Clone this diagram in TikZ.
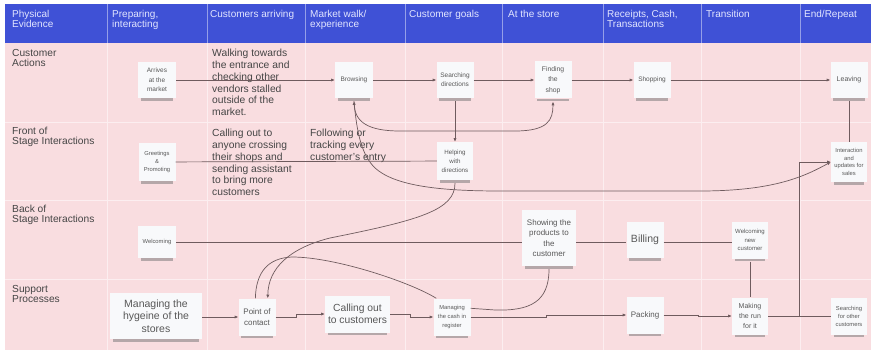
\documentclass[tikz,border=0pt]{standalone}
\usepackage{fontspec}
\setmainfont{Liberation Sans}
\usetikzlibrary{arrows.meta}

\definecolor{hdrblue}{HTML}{3F51D6}
\definecolor{hdrtext}{HTML}{E2E5FF}
\definecolor{lanepink}{HTML}{F9DDE0}
\definecolor{gridline}{HTML}{FCEEF0}
\definecolor{inkgray}{HTML}{454545}
\definecolor{notetext}{HTML}{585858}
\definecolor{wire}{HTML}{6F5B5E}
\definecolor{notefill}{HTML}{F8F9FB}

\tikzset{
  hdr/.style={anchor=north west, inner sep=0pt, align=left, text=hdrtext,
    font=\fontsize{10}{10.2}\selectfont},
  lanelabel/.style={anchor=north west, inner sep=0pt, align=left, text=inkgray,
    font=\fontsize{10.2}{10.4}\selectfont},
  memo/.style={anchor=north west, inner sep=0pt, align=left, text=inkgray,
    font=\fontsize{10.3}{11.8}\selectfont},
  sticky/.style={fill=notefill, inner sep=0pt, align=center, text=notetext,
    minimum width=37pt, minimum height=37pt},
  fs/.style 2 args={font=\fontsize{#1}{#2}\selectfont},
  flow/.style={draw=wire, line width=0.7pt, -{Latex[length=3.6pt,width=3.2pt]}},
  both/.style={draw=wire, line width=0.7pt,
    {Latex[length=3.6pt,width=3.2pt]}-{Latex[length=3.6pt,width=3.2pt]}},
  link/.style={draw=wire, line width=0.7pt},
  stickyshadow/.style={fill=black!55, opacity=0.5},
}

\begin{document}
\begin{tikzpicture}[x=1pt,y=-1pt]
\useasboundingbox (0,0) rectangle (871,353);
\fill[white] (0,0) rectangle (871,353);

% swimlane background and header band
\fill[lanepink] (5,43) rectangle (871,350);
\fill[hdrblue] (5,4) rectangle (871,43);
\foreach \cx in {107,207,305,405,502,603,701,800}{
  \draw[white, opacity=0.45, line width=0.6pt] (\cx,4) -- (\cx,43);
  \draw[gridline, line width=0.6pt] (\cx,43) -- (\cx,350);
}
\foreach \ry in {122,200,279}
  \draw[gridline, line width=0.6pt] (5,\ry) -- (871,\ry);

% column headings
\node[hdr] (h1) at (12,10) {Physical\\Evidence};
\node[hdr] (h2) at (112,10) {Preparing,\\interacting};
\node[hdr] (h3) at (210,10) {Customers arriving};
\node[hdr] (h4) at (310,10) {Market walk/\\experience};
\node[hdr] (h5) at (409,10) {Customer goals};
\node[hdr] (h6) at (508,10) {At the store};
\node[hdr] (h7) at (607,10) {Receipts, Cash,\\Transactions};
\node[hdr] (h8) at (706,10) {Transition};
\node[hdr] (h9) at (804,10) {End/Repeat};

% lane labels
\node[lanelabel] (l1) at (12,49) {Customer\\Actions};
\node[lanelabel] (l2) at (12,127) {Front of\\Stage Interactions};
\node[lanelabel] (l3) at (12,205) {Back of\\Stage Interactions};
\node[lanelabel] (l4) at (12,285) {Support\\Processes};

% free text notes
\node[memo] (t1) at (212,49) {Walking towards\\the entrance and\\checking other\\vendors stalled\\outside of the\\market.};
\node[memo] (t2) at (212,129) {Calling out to\\anyone crossing\\their shops and\\sending assistant\\to bring more\\customers};
\node[memo] (t3) at (310,129) {Following or\\tracking every\\customer's entry};

% sticky notes: customer actions
\node[sticky, fs={6.5}{9.5}, minimum width=38pt, minimum height=36pt] (arr) at (157,80) {Arrives\\at the\\market};
\node[sticky, fs={6.5}{9}, minimum width=38pt, minimum height=36pt] (brw) at (354,80) {Browsing};
\node[sticky, fs={6.5}{9}, minimum height=36pt] (srch) at (455,80) {Searching\\directions};
\node[sticky, fs={6.8}{10.5}] (find) at (553,80) {Finding\\the\\shop};
\node[sticky, fs={6.5}{9}, minimum height=36pt] (shop) at (652,80) {Shopping};
\node[sticky, fs={7}{9}, minimum height=36pt] (leave) at (849,80) {Leaving};

% sticky notes: front of stage
\node[sticky, fs={5.8}{8.5}, minimum height=38pt] (greet) at (157,162) {Greetings\\\&\\Promoting};
\node[sticky, fs={6.2}{9}, minimum width=36pt, minimum height=38pt] (help) at (455,161) {Helping\\with\\directions};
\node[sticky, fs={5.8}{7.7}, minimum width=36pt, minimum height=40pt] (inter) at (849,162) {Interaction\\and\\updates for\\sales};

% sticky notes: back of stage
\node[sticky, fs={5.8}{8}, minimum width=38pt, minimum height=32pt] (welc) at (157,242) {Welcoming};
\node[sticky, fs={8}{10.5}, minimum width=54pt, minimum height=56pt] (show) at (549,238) {Showing the\\products to\\the\\customer};
\node[sticky, fs={10.5}{12}, minimum height=36pt] (bill) at (645,240) {Billing};
\node[sticky, fs={6}{8.3}, minimum width=36pt] (welnew) at (750,240) {Welcoming\\new\\customer};

% sticky notes: support processes
\node[sticky, fs={10.5}{12.5}, minimum width=92pt, minimum height=46pt] (hyg) at (156,316) {Managing the\\hygeine of the\\stores};
\node[sticky, fs={8}{10.7}] (poc) at (257,317) {Point of\\contact};
\node[sticky, fs={10.3}{12}, minimum width=65pt] (call) at (357.5,314) {Calling out\\to customers};
\node[sticky, fs={5.8}{8.8}] (cash) at (452,317) {Managing\\the cash in\\register};
\node[sticky, fs={8}{10}] (pack) at (645,315) {Packing};
\node[sticky, fs={7}{10}, minimum width=36pt] (run) at (750,316) {Making\\the run\\for it};
\node[sticky, fs={5.8}{8}, minimum width=36pt] (other) at (849,316) {Searching\\for other\\customers};

% soft shadow strip under every sticky note
\foreach \n in {arr,brw,srch,find,shop,leave,greet,help,inter,welc,show,bill,welnew,hyg,poc,call,cash,pack,run,other}
  \fill[stickyshadow] ([xshift=3pt]\n.south west) rectangle ([xshift=-3pt,yshift=-2.5pt]\n.south east);

% customer actions flow
\draw[flow] (arr) -- (brw);
\draw[flow] (brw) -- (srch);
\draw[flow] (srch) -- (find);
\draw[flow] (find) -- (shop);
\draw[flow] (shop) -- (leave);
\draw[both] ([yshift=-3pt]brw.south) .. controls (355,122) and (368,131) .. (400,131)
  -- (515,131) .. controls (548,131) and (553,120) .. ([yshift=-3pt]find.south);

% front of stage
\draw[link] (greet) -- (help);
\draw[flow] ([yshift=-3pt]srch.south) -- (help.north);
\draw[link] ([yshift=-3pt]leave.south) -- (inter.north);
\draw[flow] ([yshift=-3pt]brw.south) .. controls (357,135) and (362,155) .. (375,168)
  .. controls (395,186) and (440,191) .. (500,191) -- (700,191)
  .. controls (775,191) and (805,176) .. (inter.west);
\draw[flow] ([yshift=-3pt]help.south) .. controls (455,210) and (420,220) .. (330,238)
  .. controls (290,248) and (268,268) .. (poc.60);

% back of stage
\draw[link] (welc.east) -- (welc.east -| show.west);
\draw[link] (welc.east -| show.east) -- (welc.east -| bill.west);
\draw[link] (welc.east -| bill.east) -- (welc.east -| welnew.west);
\draw[link] ([yshift=-3pt]welnew.south) -- (run.north);
\draw[link] ([yshift=-3pt]show.south) .. controls (549,302) and (530,311) .. (495,310) -- (cash.25);

% support processes
\draw[flow] (hyg.east |- poc.west) -- (poc.west);
\draw[link] (poc.95) .. controls (256,272) and (268,258) .. (292,257)
  .. controls (335,257) and (410,282) .. (cash.130);
\draw[flow] (poc.east) -- ++(21,0) |- (call.west);
\draw[flow] (call.east) -- ++(20,0) |- (cash.west);
\draw[flow] (cash.east) -- ++(76,0) |- (pack.west);
\draw[flow] (pack.east) -- ++(35,0) |- (run.west);
\draw[link] (run) -- (other);
\path (run.east) -- (other.west) coordinate[pos=0.5] (junc);
\draw[flow] (junc) |- (inter.west);
\end{tikzpicture}
\end{document}
